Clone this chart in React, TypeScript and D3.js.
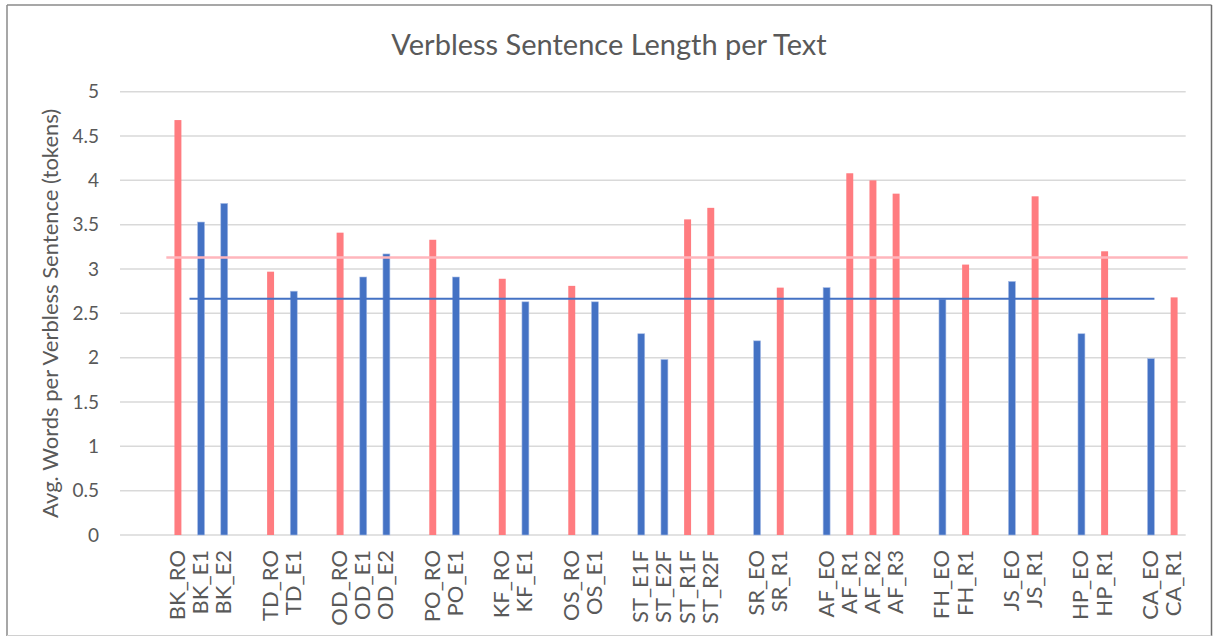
import React from "react";
import * as d3 from "d3";

// ---- DATA ----
const title = "Verbless Sentence Length per Text";
const yAxisTitle = "Avg. Words per Verbless Sentence (tokens)";

// category slots ("" = empty spacer slot on the category axis)
const categories: string[] = [
  "", "",
  "BK_RO", "BK_E1", "BK_E2", "",
  "TD_RO", "TD_E1", "",
  "OD_RO", "OD_E1", "OD_E2", "",
  "PO_RO", "PO_E1", "",
  "KF_RO", "KF_E1", "",
  "OS_RO", "OS_E1", "",
  "ST_E1F", "ST_E2F", "ST_R1F", "ST_R2F", "",
  "SR_EO", "SR_R1", "",
  "AF_EO", "AF_R1", "AF_R2", "AF_R3", "",
  "FH_EO", "FH_R1", "",
  "JS_EO", "JS_R1", "",
  "HP_EO", "HP_R1", "",
  "CA_EO", "CA_R1",
];

// original / reference texts (red series)
const redValues: (number | null)[] = [
  null, null,
  4.68, null, null, null,
  2.97, null, null,
  3.41, null, null, null,
  3.33, null, null,
  2.89, null, null,
  2.81, null, null,
  null, null, 3.56, 3.69, null,
  null, 2.79, null,
  null, 4.08, 4.0, 3.85, null,
  null, 3.05, null,
  null, 3.82, null,
  null, 3.2, null,
  null, 2.68,
];

// other texts (blue series)
const blueValues: (number | null)[] = [
  null, null,
  null, 3.53, 3.74, null,
  null, 2.75, null,
  null, 2.91, 3.17, null,
  null, 2.91, null,
  null, 2.63, null,
  null, 2.63, null,
  2.27, 1.98, null, null, null,
  2.19, null, null,
  2.79, null, null, null, null,
  2.66, null, null,
  2.86, null, null,
  2.27, null, null,
  1.99, null,
];

// average lines
const redAverage = 3.13;
const blueAverage = 2.665;

const yTicks = [0, 0.5, 1, 1.5, 2, 2.5, 3, 3.5, 4, 4.5, 5];

// ---- STYLE ----
const W = 1213;
const H = 638;
const RED = "#FF7C80";
const BLUE = "#4472C4";
const TEXT = "#595959";
const FONT = "Lato, 'Open Sans', sans-serif";

export default function App() {
  const plotLeft = 120;
  const plotRight = 1185.7;
  const plotTop = 91.7;
  const plotBottom = 535;

  const x = d3
    .scaleBand<number>()
    .domain(categories.map((_, i) => i))
    .range([plotLeft, plotRight])
    .paddingInner(0)
    .paddingOuter(0);
  const y = d3.scaleLinear().domain([0, 5]).range([plotBottom, plotTop]);
  const bw = x.bandwidth();
  const barW = bw * 0.3;

  const fmt = (v: number) => d3.format("")(v);

  const idx = (name: string) => categories.indexOf(name);

  const redLine = d3.line<[number, number]>()([
    [x(idx("BK_RO"))!, y(redAverage)],
    [plotRight + 2, y(redAverage)],
  ]);
  const blueLine = d3.line<[number, number]>()([
    [x(idx("BK_E1"))!, y(blueAverage)],
    [x(idx("CA_EO"))! + bw * 0.65, y(blueAverage)],
  ]);

  return (
    <svg
      width={W}
      height={H}
      style={{ position: "absolute", left: 0, top: 0, background: "#fff" }}
      fontFamily={FONT}
    >
      <rect x={0} y={0} width={W} height={H} fill="#fff" />
      {/* frame */}
      <line x1={7} y1={5} x2={1211.5} y2={5} stroke="#8a8a8a" strokeWidth={1.5} />
      <line x1={7} y1={5} x2={7} y2={636} stroke="#8a8a8a" strokeWidth={1.5} />
      <line x1={1211.5} y1={5} x2={1211.5} y2={636} stroke="#6e6e6e" strokeWidth={1.5} />
      <line x1={7} y1={635.5} x2={1211.5} y2={635.5} stroke="#d0d0d0" strokeWidth={1.2} />

      {/* title */}
      <text x={609} y={55} textAnchor="middle" fontSize={29} fill={TEXT}>
        {title}
      </text>

      {/* gridlines */}
      {yTicks.map((t) => (
        <line
          key={"g" + t}
          x1={plotLeft}
          x2={plotRight}
          y1={y(t)}
          y2={y(t)}
          stroke="#D9D9D9"
          strokeWidth={1.5}
        />
      ))}

      {/* y tick labels */}
      {yTicks.map((t) => (
        <text
          key={"t" + t}
          x={99}
          y={y(t)}
          dy="0.35em"
          textAnchor="end"
          fontSize={19}
          fill={TEXT}
        >
          {fmt(t)}
        </text>
      ))}

      {/* y axis title */}
      <text
        transform={`translate(58,${(plotTop + plotBottom) / 2}) rotate(-90)`}
        textAnchor="middle"
        fontSize={22}
        fill={TEXT}
      >
        {yAxisTitle}
      </text>

      {/* bars */}
      {redValues.map((v, i) =>
        v == null ? null : (
          <rect
            key={"r" + i}
            x={x(i)! + bw / 2 - barW / 2}
            y={y(v)}
            width={barW}
            height={y(0) - y(v)}
            fill={RED}
          />
        )
      )}
      {blueValues.map((v, i) =>
        v == null ? null : (
          <rect
            key={"b" + i}
            x={x(i)! + bw / 2 - barW / 2}
            y={y(v)}
            width={barW}
            height={y(0) - y(v)}
            fill={BLUE}
            stroke="#a9bde6"
            strokeWidth={0.6}
          />
        )
      )}

      {/* average lines */}
      <path d={redLine!} stroke="#FFB6BC" strokeWidth={2.6} fill="none" />
      <path d={blueLine!} stroke={BLUE} strokeWidth={2} fill="none" />

      {/* category labels */}
      {categories.map((c, i) =>
        c === "" ? null : (
          <text
            key={"c" + i}
            transform={`translate(${x(i)! + bw / 2 + 7},550) rotate(-90)`}
            textAnchor="end"
            fontSize={22}
            fill={TEXT}
          >
            {c}
          </text>
        )
      )}
    </svg>
  );
}
